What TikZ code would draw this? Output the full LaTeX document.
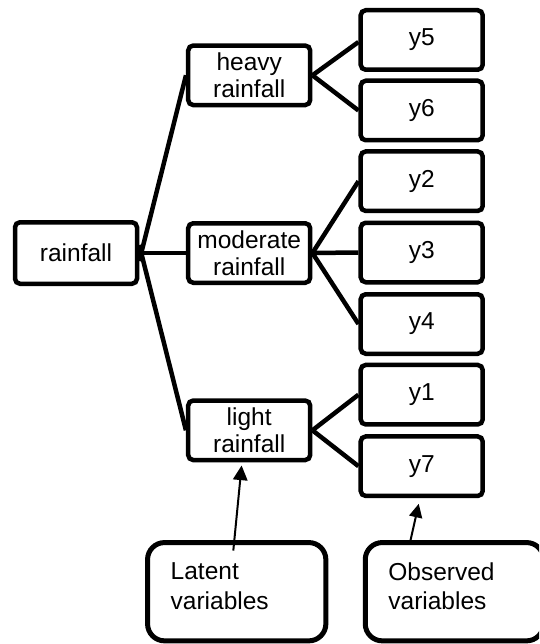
\documentclass[tikz,border=0pt]{standalone}
\usepackage{fontspec}
\setmainfont{Liberation Sans}
\usetikzlibrary{calc}
\begin{document}
\begin{tikzpicture}[x=1pt,y=-1pt,
  box/.style={draw,line width=4.5pt,rounded corners=5pt,minimum width=122pt,minimum height=59.5pt,inner sep=0pt,align=center,
    font=\fontsize{24.5}{27}\selectfont},
  bigbox/.style={draw,line width=5pt,rounded corners=17pt,minimum width=178.3pt,minimum height=98.3pt,inner sep=0pt,align=left,text width=132pt,
    font=\fontsize{24.5}{29.3}\selectfont},
  conn/.style={line width=4.5pt},
  pointer/.style={line width=2pt}]
\useasboundingbox (0,0) rectangle (539,644);
\node[box,minimum height=61.5pt] (rain) at (76,253) {rainfall};
\node[box] (heavy) at (249.2,75.3) {heavy\\rainfall};
\node[box] (moder) at (249.2,253) {moderate\\rainfall};
\node[box] (light) at (249.2,430.3) {light\\rainfall};
\node[box] (y5) at (421.7,40) {y5};
\node[box] (y6) at (421.7,110.5) {y6};
\node[box] (y2) at (421.7,181.2) {y2};
\node[box] (y3) at (421.7,252.5) {y3};
\node[box] (y4) at (421.7,324) {y4};
\node[box] (y1) at (421.7,394.7) {y1};
\node[box] (y7) at (421.7,466.2) {y7};
\node[bigbox] (lat) at (236.7,591.7) {Latent\\variables\rule[-11pt]{0pt}{0pt}};
\begin{scope}
\clip (0,0) rectangle (539,644);
\node[bigbox] (obs) at (454.4,591.7) {Observed\\variables\rule[-11pt]{0pt}{0pt}};
\end{scope}
\draw[conn] ([yshift=-8pt]rain.east) -- (heavy.west);
\draw[conn] (rain.east) -- (moder.west);
\draw[conn] ([yshift=8pt]rain.east) -- (light.west);
\draw[conn] (heavy.east) -- ([yshift=-2pt]y5.west);
\draw[conn] (heavy.east) -- (y6.west);
\draw[conn] (moder.east) -- (y2.west);
\draw[conn] (moder.east) -- (y3.west);
\draw[conn] (moder.east) -- (y4.west);
\draw[conn] (light.east) -- (y1.west);
\draw[conn] (light.east) -- (y7.west);
% pointer arrows
\coordinate (sa) at ([xshift=-3.4pt,yshift=-10.5pt]lat.north);
\coordinate (ta) at ([xshift=-7.6pt,yshift=-3.3pt]light.south);
\coordinate (sb) at ([xshift=-44.4pt,yshift=-2.5pt]obs.north);
\coordinate (tb) at ([xshift=-3pt,yshift=-5.7pt]y7.south);
\draw[pointer] (sa) -- ($(ta)!12pt!(sa)$);
\fill[shift={(ta)},rotate=-5.3] (0,0) -- (-7.5,14.5) -- (7.5,14.5) -- cycle;
\draw[pointer] (sb) -- ($(tb)!11pt!(sb)$);
\fill[shift={(tb)},rotate=-13] (0,0) -- (-6.8,13.5) -- (6.8,13.5) -- cycle;
\end{tikzpicture}
\end{document}
